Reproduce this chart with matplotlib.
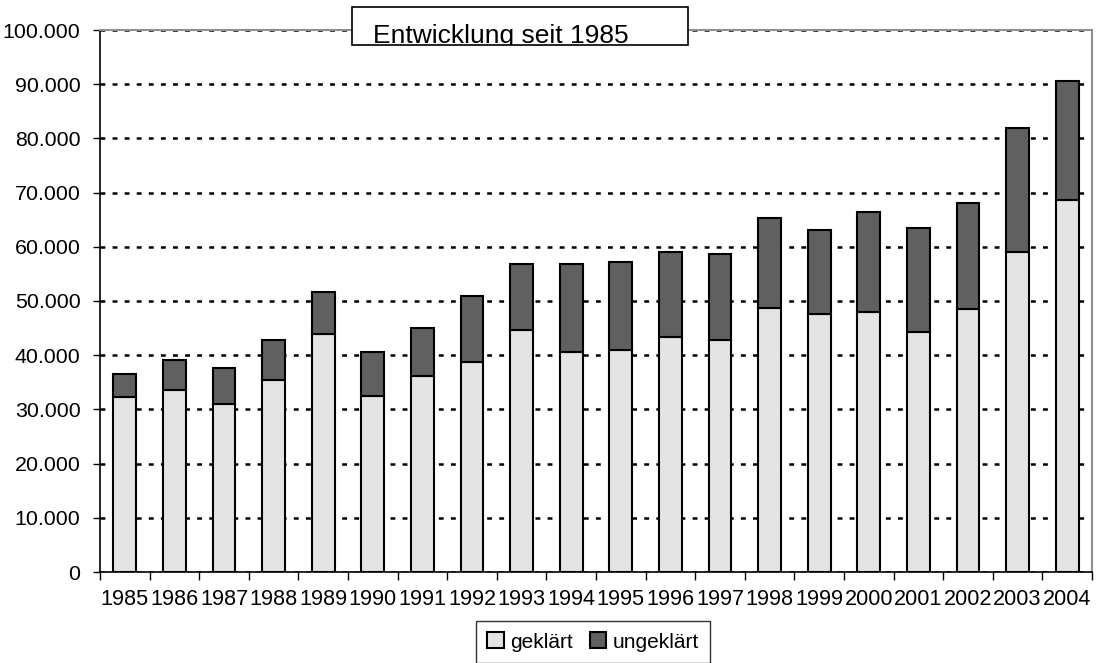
import numpy as np
import matplotlib
matplotlib.use("Agg")
import matplotlib.pyplot as plt
from matplotlib.ticker import FuncFormatter, FixedLocator
from matplotlib.patches import Rectangle

plt.rcParams['font.family'] = ['Liberation Sans', 'DejaVu Sans']
plt.rcParams['lines.scale_dashes'] = False

years = ['1985', '1986', '1987', '1988', '1989', '1990', '1991', '1992', '1993', '1994',
         '1995', '1996', '1997', '1998', '1999', '2000', '2001', '2002', '2003', '2004']
# Gesamt und geklärt
total = [36500, 39200, 37700, 42800, 51700, 40600, 45100, 51000, 56900, 56900,
         57200, 59000, 58700, 65400, 63100, 66500, 63500, 68000, 82000, 90500]
geklaert = [32200, 33500, 31000, 35400, 43900, 32500, 36200, 38700, 44600, 40600,
            41000, 43400, 42800, 48700, 47600, 47900, 44300, 48600, 59000, 68600]
ungeklaert = [t - g for t, g in zip(total, geklaert)]

fig = plt.figure(figsize=(10.96, 6.63), dpi=100)
ax = fig.add_axes([100/1096, 91/663, 992/1096, 542/663])

x = np.arange(len(years))
w = 0.46
ax.bar(x, geklaert, w, color='#e4e4e4', edgecolor='black', linewidth=1.5,
       label='geklärt', zorder=3)
ax.bar(x, ungeklaert, w, bottom=geklaert, color='#606060', edgecolor='black',
       linewidth=1.5, label='ungeklärt', zorder=3)

ax.set_xlim(-0.5, len(years) - 0.5)
ax.set_ylim(0, 100000)
ax.set_yticks(np.arange(0, 100001, 10000))
ax.yaxis.set_major_formatter(FuncFormatter(lambda v, p: f"{int(v):,}".replace(',', '.')))
ax.yaxis.grid(True, color='black', linestyle=(0, (3.5, 5.2)), linewidth=1.8, zorder=1)
ax.set_axisbelow(True)

ax.set_xticks(x)
ax.set_xticklabels(years)
ax.xaxis.set_minor_locator(FixedLocator(np.arange(-0.5, len(years), 1.0)))
ax.tick_params(axis='x', which='major', length=0, pad=12, labelsize=15.6)
ax.tick_params(axis='x', which='minor', length=6, width=1, direction='out')
ax.tick_params(axis='y', length=5, width=1, direction='out', pad=9, labelsize=15.4)

for s in ['top', 'right']:
    ax.spines[s].set_color('#909090')
    ax.spines[s].set_linewidth(1.5)
for s in ['left', 'bottom']:
    ax.spines[s].set_color('black')
    ax.spines[s].set_linewidth(1.2)

# Titelkasten, unten abgeschnitten
box = Rectangle((352/1096, (663-45)/663), 336/1096, 38/663, transform=fig.transFigure,
                facecolor='white', edgecolor='black', linewidth=1.2, zorder=5)
fig.patches.append(box)
t = fig.text(373/1096, (663-43)/663, 'Entwicklung seit 1985', fontsize=19,
             ha='left', va='baseline', zorder=6)
t.set_clip_path(box)

leg = fig.legend(loc='upper center', bbox_to_anchor=(593/1096, (663-621)/663), ncol=2,
                 fontsize=15, frameon=True, fancybox=False, edgecolor='black',
                 handlelength=0.8, handleheight=0.8, handletextpad=0.3,
                 columnspacing=0.8, borderpad=0.55, borderaxespad=0)
leg.get_frame().set_linewidth(1.0)

fig.savefig('out.png', dpi=100)
